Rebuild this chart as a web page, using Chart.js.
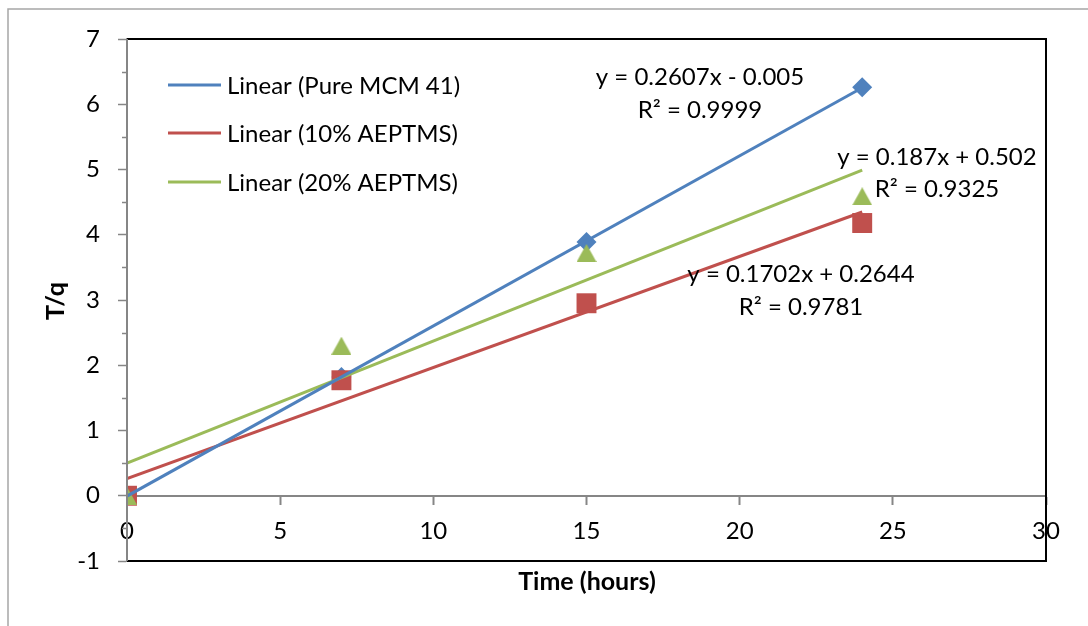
<!DOCTYPE html>
<html>
<head>
<meta charset="utf-8">
<script src="https://cdn.jsdelivr.net/npm/chart.js@4.4.1/dist/chart.umd.min.js"></script>
<style>
  html, body { margin: 0; padding: 0; background: #ffffff; }
  #c { display: block; }
</style>
</head>
<body>
<canvas id="c" width="1088" height="626"></canvas>
<script>
// ---- data ----
const timeHours = [0, 7, 15, 24];
const pureMCM41 = [0, 1.82, 3.89, 6.26];
const aeptms10 = [0, 1.77, 2.95, 4.18];
const aeptms20 = [0, 2.30, 3.72, 4.59];

// trend-line end points (x = 0 and x = 24)
const trendX = [0, 24];
const trendPure = [-0.005, 6.252];
const trend10 = [0.2644, 4.349];
const trend20 = [0.502, 4.99];

const seriesNames = ['Linear (Pure MCM 41)', 'Linear (10% AEPTMS)', 'Linear (20% AEPTMS)'];
const equationLines = [
  ['y = 0.2607x - 0.005', 'R² = 0.9999'],
  ['y = 0.1702x + 0.2644', 'R² = 0.9781'],
  ['y = 0.187x + 0.502', 'R² = 0.9325']
];
const xTitle = 'Time (hours)';
const yTitle = 'T/q';

const xMin = 0, xMax = 30, xStep = 5;
const yMin = -1, yMax = 7, yStep = 1;

// ---- styles ----
const BLUE = '#4F81BD', RED = '#C0504D', GREEN = '#9BBB59';
const AXIS_GRAY = '#868686';
const FONT = 'Lato, "Noto Sans", sans-serif';
const FS = 24;
const TITLE_FS = 25;

function pts(xs, ys) { return xs.map((x, i) => ({ x: x, y: ys[i] })); }

// triangle marker centred on its bounding box (like Excel)
const tri = document.createElement('canvas');
tri.width = 20; tri.height = 18;
(function () {
  const t = tri.getContext('2d');
  t.fillStyle = GREEN;
  t.beginPath();
  t.moveTo(10, 0); t.lineTo(20, 18); t.lineTo(0, 18); t.closePath();
  t.fill();
})();

const decorPlugin = {
  id: 'decor',
  beforeDraw(chart) {
    const ctx = chart.ctx;
    ctx.save();
    ctx.fillStyle = '#ffffff';
    ctx.fillRect(0, 0, chart.width, chart.height);
    ctx.strokeStyle = '#a6a6a6';
    ctx.lineWidth = 1.5;
    ctx.strokeRect(8, 9, chart.width + 20, chart.height + 20);
    ctx.restore();
  },
  afterDraw(chart) {
    const ctx = chart.ctx;
    const a = chart.chartArea;
    const ys = chart.scales.y;
    ctx.save();
    // plot area frame (top, right, bottom)
    ctx.strokeStyle = '#000000';
    ctx.lineWidth = 2;
    ctx.beginPath();
    ctx.moveTo(a.left, a.top); ctx.lineTo(a.right, a.top);
    ctx.lineTo(a.right, a.bottom); ctx.lineTo(a.left, a.bottom);
    ctx.stroke();
    // y axis line (gray) on top of frame
    ctx.strokeStyle = AXIS_GRAY;
    ctx.beginPath();
    ctx.moveTo(a.left, a.top); ctx.lineTo(a.left, a.bottom);
    ctx.stroke();
    // minor ticks on y axis
    ctx.lineWidth = 1.5;
    for (let v = yMin + yStep / 2; v < yMax; v += yStep) {
      const py = Math.round(ys.getPixelForValue(v)) + 0.5;
      ctx.beginPath();
      ctx.moveTo(a.left - 5, py); ctx.lineTo(a.left, py);
      ctx.stroke();
    }
    // legend inside plot
    const legendY = [85, 133, 182];
    const colors = [BLUE, RED, GREEN];
    ctx.font = FS + 'px ' + FONT;
    ctx.textBaseline = 'middle';
    ctx.textAlign = 'left';
    for (let i = 0; i < 3; i++) {
      ctx.strokeStyle = colors[i];
      ctx.lineWidth = 3;
      ctx.beginPath();
      ctx.moveTo(168, legendY[i]); ctx.lineTo(221, legendY[i]);
      ctx.stroke();
      ctx.fillStyle = '#000000';
      ctx.fillText(seriesNames[i], 227, legendY[i] + 1);
    }
    // trendline equations
    const eqPos = [[700, 77, 110], [801, 274, 307], [937, 157, 189]];
    ctx.textAlign = 'center';
    for (let i = 0; i < 3; i++) {
      ctx.fillText(equationLines[i][0], eqPos[i][0], eqPos[i][1]);
      ctx.fillText(equationLines[i][1], eqPos[i][0], eqPos[i][2]);
    }
    // axis titles
    ctx.font = 'bold ' + TITLE_FS + 'px ' + FONT;
    ctx.fillText(xTitle, 587, 582);
    ctx.translate(56, 301);
    ctx.rotate(-Math.PI / 2);
    ctx.fillText(yTitle, 0, 0);
    ctx.restore();
  }
};

new Chart(document.getElementById('c'), {
  type: 'scatter',
  data: {
    datasets: [
      { label: seriesNames[0], data: pts(trendX, trendPure), showLine: true, borderColor: BLUE, borderWidth: 3, pointRadius: 0, order: 1 },
      { label: seriesNames[1], data: pts(trendX, trend10), showLine: true, borderColor: RED, borderWidth: 3, pointRadius: 0, order: 1 },
      { label: seriesNames[2], data: pts(trendX, trend20), showLine: true, borderColor: GREEN, borderWidth: 3, pointRadius: 0, order: 1 },
      { label: 'Pure MCM 41', data: pts(timeHours, pureMCM41), showLine: false, pointStyle: 'rectRot', pointRadius: 10, backgroundColor: BLUE, borderColor: BLUE, borderWidth: 0, order: 4 },
      { label: '10% AEPTMS', data: pts(timeHours, aeptms10), showLine: false, pointStyle: 'rect', pointRadius: 14.1, backgroundColor: RED, borderColor: RED, borderWidth: 0, order: 3 },
      { label: '20% AEPTMS', data: pts(timeHours, aeptms20), showLine: false, pointStyle: tri, pointRadius: 10, backgroundColor: GREEN, borderColor: GREEN, borderWidth: 0, order: 2 }
    ]
  },
  options: {
    responsive: false,
    animation: false,
    devicePixelRatio: 1,
    layout: { padding: { left: 0, top: 39, right: 42, bottom: 65 } },
    plugins: { legend: { display: false }, tooltip: { enabled: false } },
    scales: {
      x: {
        type: 'linear',
        position: { y: 0 },
        min: xMin, max: xMax,
        ticks: { stepSize: xStep, color: '#000000', font: { family: FONT, size: FS }, padding: 13, maxRotation: 0 },
        grid: { drawOnChartArea: false, drawTicks: true, tickLength: 8, color: AXIS_GRAY, tickWidth: 2 },
        border: { display: true, color: AXIS_GRAY, width: 2 }
      },
      y: {
        type: 'linear',
        position: 'left',
        min: yMin, max: yMax,
        afterFit(scale) { scale.width = 127; },
        ticks: { stepSize: yStep, color: '#000000', font: { family: FONT, size: FS }, padding: 18 },
        grid: { drawOnChartArea: false, drawTicks: true, tickLength: 9, color: AXIS_GRAY, tickWidth: 1.5 },
        border: { display: true, color: AXIS_GRAY, width: 2 }
      }
    }
  },
  plugins: [decorPlugin]
});
</script>
</body>
</html>
